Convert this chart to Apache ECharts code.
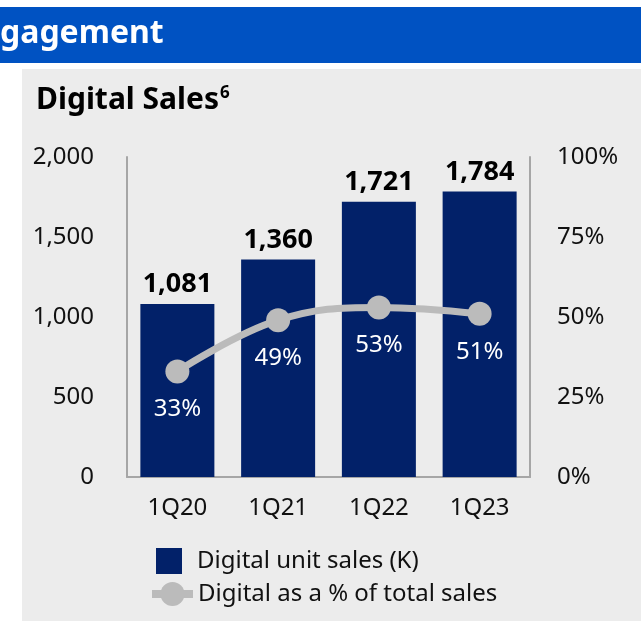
<!DOCTYPE html>
<html>
<head>
<meta charset="utf-8">
<script src="https://cdn.jsdelivr.net/npm/echarts@6/dist/echarts.min.js"></script>
<style>
  html, body { margin: 0; padding: 0; background: #fff; }
  #main { width: 641px; height: 621px; }
</style>
</head>
<body>
<div id="main"></div>
<script>
// chart data
var quarters = ["1Q20", "1Q21", "1Q22", "1Q23"];
var unitSales = [1081, 1360, 1721, 1784];
var digitalShare = [33, 49, 53, 51];
var leftTicks = [0, 500, 1000, 1500, 2000];
var rightTicks = [0, 25, 50, 75, 100];

var FONT = '"Noto Sans", sans-serif';
var navy = "#022169";
var grey = "#bbbbbb";

var myChart = echarts.init(document.getElementById("main"));

var option = {
  backgroundColor: "#ffffff",
  textStyle: { fontFamily: FONT },
  graphic: [
    // blue banner + grey panel
    { type: "rect", left: 0, top: 7, shape: { width: 641, height: 56 }, style: { fill: "#0052c2" }, z: -10 },
    { type: "rect", left: 22, top: 69, shape: { width: 619, height: 552 }, style: { fill: "#ececec" }, z: -10 },
    {
      type: "text", left: 0, top: 18, z: 10,
      style: { text: "gagement", fill: "#ffffff", font: "bold 32px " + FONT }
    }
  ],
  title: {
    text: "Digital Sales{sup|6}",
    left: 31,
    top: 80,
    textStyle: {
      fontFamily: FONT, fontSize: 30, fontWeight: "bold", color: "#000",
      rich: { sup: { fontFamily: FONT, fontSize: 17, fontWeight: "bold", color: "#000", verticalAlign: "top", padding: [0, 0, 14, 1] } }
    }
  },
  legend: [
    {
      data: ["Digital unit sales (K)"],
      left: 156, top: 548, padding: 0,
      itemWidth: 26, itemHeight: 26,
      icon: "rect",
      textStyle: { fontFamily: FONT, fontSize: 24, color: "#111", padding: [0, 0, 0, 10] },
      itemStyle: { borderWidth: 0 }
    },
    {
      data: ["Digital as a % of total sales"],
      left: 148, top: 582, padding: 0,
      itemWidth: 41, itemHeight: 30,
      lineStyle: { width: 8, color: grey },
      textStyle: { fontFamily: FONT, fontSize: 24, color: "#111" }
    }
  ],
  grid: { left: 127, right: 111, top: 157, bottom: 144 },
  xAxis: {
    type: "category",
    data: quarters,
    axisLine: { show: true, lineStyle: { color: "#a6a6a6", width: 2 } },
    axisTick: { show: false },
    axisLabel: { fontFamily: FONT, fontSize: 24, color: "#111", margin: 19 }
  },
  yAxis: [
    {
      type: "value",
      min: leftTicks[0], max: leftTicks[leftTicks.length - 1], interval: 500,
      axisLine: { show: true, lineStyle: { color: "#a6a6a6", width: 2 } },
      axisTick: { show: false },
      splitLine: { show: false },
      axisLabel: {
        fontFamily: FONT, fontSize: 24, color: "#111", margin: 33,
        formatter: function (v) { return v.toLocaleString("en-US"); }
      }
    },
    {
      type: "value",
      min: rightTicks[0], max: rightTicks[rightTicks.length - 1], interval: 25,
      position: "right",
      axisLine: { show: true, lineStyle: { color: "#a6a6a6", width: 2 } },
      axisTick: { show: false },
      splitLine: { show: false },
      axisLabel: { fontFamily: FONT, fontSize: 24, color: "#111", margin: 27, formatter: "{value}%" }
    }
  ],
  series: [
    {
      name: "Digital unit sales (K)",
      type: "bar",
      data: unitSales,
      barWidth: 74,
      itemStyle: { color: navy },
      label: {
        show: true, position: "top", distance: 6,
        fontFamily: FONT, fontSize: 27, fontWeight: "bold", color: "#000",
        formatter: function (p) { return p.value.toLocaleString("en-US"); }
      },
      z: 2
    },
    {
      name: "Digital as a % of total sales",
      type: "line",
      yAxisIndex: 1,
      data: digitalShare,
      smooth: 0.4,
      symbol: "circle",
      symbolSize: 24,
      itemStyle: { color: grey },
      lineStyle: { color: grey, width: 7 },
      label: {
        show: true, position: "bottom", distance: 14,
        fontFamily: FONT, fontSize: 24, color: "#ffffff",
        formatter: "{c}%"
      },
      z: 5
    }
  ]
};

myChart.setOption(option);
</script>
</body>
</html>
